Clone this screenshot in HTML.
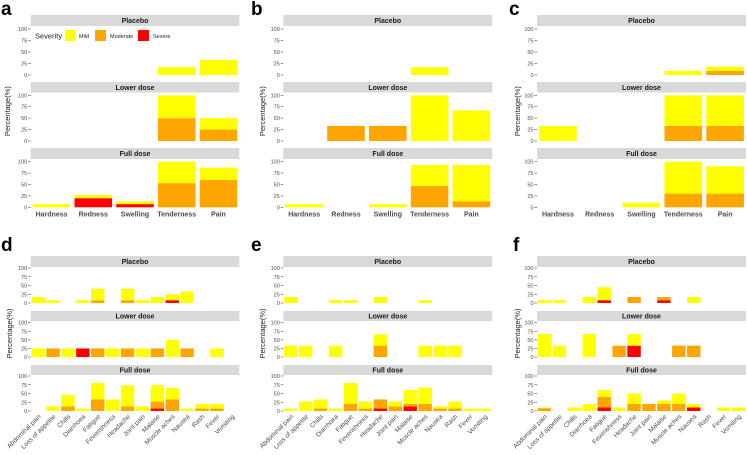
<!DOCTYPE html>
<html><head><meta charset="utf-8"><style>
html,body{margin:0;padding:0;background:#fff;}
svg{display:block;font-family:"Liberation Sans",sans-serif;}
</style></head><body>
<svg id="chart" width="747" height="455" viewBox="0 0 747 455" xmlns="http://www.w3.org/2000/svg"></svg>
<script>
const localCats = ["Hardness","Redness","Swelling","Tenderness","Pain"];
const sysCats = ["Abdominal pain","Loss of appetite","Chills","Diarrhoea","Fatigue","Feverishness","Headache","Joint pain","Malaise","Muscle aches","Nausea","Rash","Fever","Vomiting"];
const facetNames = ["Placebo","Lower dose","Full dose"];
const yTicks = [0,25,50,75,100];

// Panel a (local)
const aPlaceboMild=[0,0,0,17,33], aPlaceboMod=[0,0,0,0,0], aPlaceboSev=[0,0,0,0,0];
const aLowerMild=[0,0,0,50,25], aLowerMod=[0,0,0,50,25], aLowerSev=[0,0,0,0,0];
const aFullMild=[7,7,6,47,27], aFullMod=[0,0,0,53,60], aFullSev=[0,20,7,0,0];
// Panel b
const bPlaceboMild=[0,0,0,17,0], bPlaceboMod=[0,0,0,0,0], bPlaceboSev=[0,0,0,0,0];
const bLowerMild=[0,0,0,100,67], bLowerMod=[0,33,33,0,0], bLowerSev=[0,0,0,0,0];
const bFullMild=[7,0,7,46,80], bFullMod=[0,0,0,47,13], bFullSev=[0,0,0,0,0];
// Panel c
const cPlaceboMild=[0,0,0,9,9], cPlaceboMod=[0,0,0,0,9], cPlaceboSev=[0,0,0,0,0];
const cLowerMild=[33,0,0,67,67], cLowerMod=[0,0,0,33,33], cLowerSev=[0,0,0,0,0];
const cFullMild=[0,0,10,70,60], cFullMod=[0,0,0,30,30], cFullSev=[0,0,0,0,0];
// Panel d (systemic)
const dPlaceboMild=[17,8,0,8,33,0,33,8,17,17,33,0,0,0], dPlaceboMod=[0,0,0,0,8,0,8,0,0,0,0,0,0,0], dPlaceboSev=[0,0,0,0,0,0,0,0,0,8,0,0,0,0];
const dLowerMild=[25,0,25,0,0,25,0,25,0,50,0,0,25,0], dLowerMod=[0,25,0,0,25,0,25,0,25,0,25,0,0,0], dLowerSev=[0,0,0,25,0,0,0,0,0,0,0,0,0,0];
const dFullMild=[0,13,33,7,47,33,60,13,47,33,7,13,13,0], dFullMod=[0,0,13,0,33,0,13,0,20,33,0,7,7,0], dFullSev=[0,0,0,0,0,0,0,0,7,0,0,0,0,0];
// Panel e
const ePlaceboMild=[17,0,0,8,8,0,17,0,0,8,0,0,0,0], ePlaceboMod=[0,0,0,0,0,0,0,0,0,0,0,0,0,0], ePlaceboSev=[0,0,0,0,0,0,0,0,0,0,0,0,0,0];
const eLowerMild=[33,33,0,33,0,0,33,0,0,33,33,33,0,0], eLowerMod=[0,0,0,0,0,0,33,0,0,0,0,0,0,0], eLowerSev=[0,0,0,0,0,0,0,0,0,0,0,0,0,0];
const eFullMild=[7,27,26,7,60,20,0,14,40,47,6,20,7,7], eFullMod=[0,0,7,0,20,7,26,13,7,20,7,7,0,0], eFullSev=[0,0,0,0,0,0,7,0,13,0,0,0,0,0];
// Panel f
const fPlaceboMild=[8,8,0,17,37,0,0,0,0,0,17,0,0,0], fPlaceboMod=[0,0,0,0,0,0,17,0,9,0,0,0,0,0], fPlaceboSev=[0,0,0,0,8,0,0,0,8,0,0,0,0,0];
const fLowerMild=[67,33,0,67,0,0,34,0,0,0,0,0,0,0], fLowerMod=[0,0,0,0,0,33,0,0,0,33,33,0,0,0], fLowerSev=[0,0,0,0,0,0,33,0,0,0,0,0,0,0];
const fFullMild=[2,0,10,20,20,10,30,0,10,30,10,0,10,10], fFullMod=[8,0,0,0,30,0,20,20,20,20,0,0,0,0], fFullSev=[0,0,0,0,10,0,0,0,0,0,10,0,0,0];

const NS="http://www.w3.org/2000/svg";
const svg=document.getElementById('chart');
function el(tag,attrs,parent,text){const e=document.createElementNS(NS,tag);for(const k in attrs)e.setAttribute(k,attrs[k]);if(text!==undefined)e.textContent=text;(parent||svg).appendChild(e);return e;}

const topRow={strips:[[15,26],[82,92.5],[148,159]],plots:[[29,75],[95.3,141],[161.7,207.3]]};
const botRow={strips:[[256,267],[311,321],[365,375]],plots:[[268,303],[322.7,357],[376,411]]};
const colors={mild:"#ffff00",mod:"#ffa500",sev:"#ff0000"};

function panel(id,x0,x1,cats,facets,geom,rot,letter,lx,ly,ytx){
  const g=el('g',{});
  
  
  const L=el('text',{x:lx,y:ly,'font-size':19,'font-weight':'bold',fill:'#000'},g,letter);
  
  
  const midY=(geom.strips[0][0]+geom.plots[2][1])/2;
  const yt=el('text',{x:ytx,y:midY,'font-size':7.5,fill:'#222','text-anchor':'middle',transform:'rotate(-90 '+ytx+' '+midY+')'},g,'Percentage(%)');
  
  
  const band=(x1-x0)/cats.length;
  const xC=i=>x0+band*(i+0.5);
  facets.forEach((f,fi)=>{
    const s=geom.strips[fi], p=geom.plots[fi];
    const st=el('rect',{x:x0,y:s[0],width:x1-x0,height:s[1]-s[0],fill:'#d9d9d9'},g);
    
    
    el('text',{x:(x0+x1)/2,y:(s[0]+s[1])/2+2.5,'font-size':7,'font-weight':'bold',fill:'#1a1a1a','text-anchor':'middle'},g,facetNames[fi]);
    const yS=v=>p[1]-(p[1]-p[0])*v/100;
    yTicks.forEach(t=>{
      el('line',{x1:x0-2.5,x2:x0,y1:yS(t),y2:yS(t),stroke:'#444','stroke-width':0.6},g);
      const tl=el('text',{x:x0-3.5,y:yS(t)+2,'font-size':5.5,fill:'#4d4d4d','text-anchor':'end'},g,String(t));
      
      
    });
    const bw=band*0.9;
    cats.forEach((c,i)=>{
      let base=0;
      [['sev',f[2][i]],['mod',f[1][i]],['mild',f[0][i]]].forEach(([k,v])=>{
        if(v>0){
          const r=el('rect',{x:xC(i)-bw/2,y:yS(base+v),width:bw,height:yS(base)-yS(base+v),fill:colors[k]},g);
          
          
          base+=v;
        }
      });
    });
  });
  const pb=geom.plots[2][1];
  cats.forEach((c,i)=>{
    let t;
    if(rot){
      const x=xC(i)+3,y=pb+6;
      t=el('text',{x:x,y:y,'font-size':6.5,fill:'#4d4d4d','text-anchor':'end',transform:'rotate(-45 '+x+' '+y+')'},g,c);
    } else {
      t=el('text',{x:xC(i),y:pb+9,'font-size':7,'font-weight':'bold',fill:'#4d4d4d','text-anchor':'middle'},g,c);
    }
    
    
  });
}

panel('a',30.7,239.3,localCats,[[aPlaceboMild,aPlaceboMod,aPlaceboSev],[aLowerMild,aLowerMod,aLowerSev],[aFullMild,aFullMod,aFullSev]],topRow,false,'a',1,15,10);
panel('b',283.3,492.3,localCats,[[bPlaceboMild,bPlaceboMod,bPlaceboSev],[bLowerMild,bLowerMod,bLowerSev],[bFullMild,bFullMod,bFullSev]],topRow,false,'b',251,15,265);
panel('c',537,746,localCats,[[cPlaceboMild,cPlaceboMod,cPlaceboSev],[cLowerMild,cLowerMod,cLowerSev],[cFullMild,cFullMod,cFullSev]],topRow,false,'c',509,15,520);
panel('d',30.7,239.3,sysCats,[[dPlaceboMild,dPlaceboMod,dPlaceboSev],[dLowerMild,dLowerMod,dLowerSev],[dFullMild,dFullMod,dFullSev]],botRow,true,'d',1,251,12);
panel('e',283.3,492.3,sysCats,[[ePlaceboMild,ePlaceboMod,ePlaceboSev],[eLowerMild,eLowerMod,eLowerSev],[eFullMild,eFullMod,eFullSev]],botRow,true,'e',251,251,265);
panel('f',537,746,sysCats,[[fPlaceboMild,fPlaceboMod,fPlaceboSev],[fLowerMild,fLowerMod,fLowerSev],[fFullMild,fFullMod,fFullSev]],botRow,true,'f',513,251,520);

// legend
const lg=el('g',{});


el('text',{x:35,y:38.5,'font-size':7.5,fill:'#222'},lg,'Severity');
[['Mild','#ffff00',65,79],['Moderate','#ffa500',95,110],['Severe','#ff0000',138,153]].forEach(([n,c,sx,tx])=>{
  const sw=el('rect',{x:sx,y:30,width:11,height:11,fill:c},lg);
  
  
  const t=el('text',{x:tx,y:38,'font-size':5.5,fill:'#222'},lg,n);
  
  
});
</script>
</body></html>
